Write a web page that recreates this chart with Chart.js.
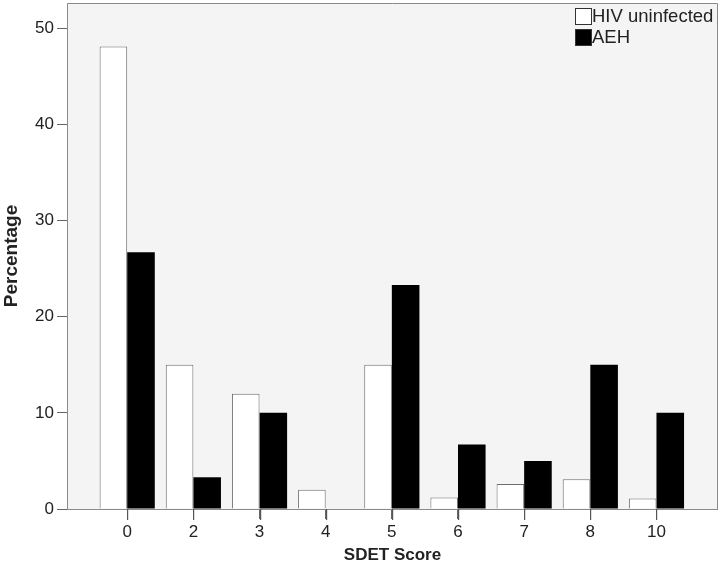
<!DOCTYPE html>
<html>
<head>
<meta charset="utf-8">
<script src="https://cdn.jsdelivr.net/npm/chart.js@4/dist/chart.umd.min.js"></script>
<style>
html,body{margin:0;padding:0;background:#fff;}
#wrap{width:720px;height:568px;}
</style>
</head>
<body>
<div id="wrap"><canvas id="c" width="720" height="568"></canvas></div>
<script>
const categories = ["0", "2", "3", "4", "5", "6", "7", "8", "10"];
const hivUninfected = [48.1, 15.0, 12.0, 2.0, 15.0, 1.2, 2.6, 3.1, 1.1];
const aeh = [26.7, 3.3, 10.0, 0, 23.3, 6.7, 5.0, 15.0, 10.0];
const seriesNames = ["HIV uninfected", "AEH"];
const yTicks = [0, 10, 20, 30, 40, 50];

const FONT = "'Liberation Sans', Arial, sans-serif";

const toPoints = arr => arr.map((v, i) => ({x: i, y: v}));

const frame = {
  id: 'frame',
  beforeDatasetsDraw(chart) {
    const {ctx, chartArea: a} = chart;
    ctx.save();
    ctx.fillStyle = '#f4f4f4';
    ctx.fillRect(a.left, a.top, a.right - a.left, a.bottom - a.top);
    ctx.restore();
  },
  afterDraw(chart) {
    const {ctx, chartArea: a} = chart;
    const xs = chart.scales.x;
    ctx.save();
    ctx.lineWidth = 1;
    ctx.strokeStyle = '#8a8a8a';
    ctx.beginPath();
    ctx.moveTo(a.left + 0.5, a.bottom);
    ctx.lineTo(a.left + 0.5, a.top + 0.5);
    ctx.lineTo(a.right - 0.5, a.top + 0.5);
    ctx.lineTo(a.right - 0.5, a.bottom);
    ctx.stroke();
    ctx.beginPath();
    ctx.moveTo(a.left, a.bottom + 0.5);
    ctx.lineTo(a.right, a.bottom + 0.5);
    ctx.stroke();
    // x tick marks at each category position
    ctx.fillStyle = '#555555';
    for (let i = 0; i < categories.length; i++) {
      const px = xs.getPixelForValue(i);
      ctx.fillRect(Math.round(px), a.bottom, 1.2, 11);
    }
    // legend
    const x0 = a.right - 143, y0 = a.top + 5;
    ctx.font = '18.5px ' + FONT;
    ctx.textBaseline = 'middle';
    chart.data.datasets.forEach((ds, i) => {
      const y = y0 + i * 21;
      ctx.fillStyle = ds.backgroundColor;
      ctx.fillRect(x0, y, 16, 16);
      ctx.strokeStyle = '#333';
      ctx.strokeRect(x0 + 0.5, y + 0.5, 16, 16);
      ctx.fillStyle = '#222';
      ctx.fillText(ds.label, x0 + 17, y + 9);
    });
    ctx.restore();
  }
};

new Chart(document.getElementById('c'), {
  type: 'bar',
  data: {
    datasets: [
      {label: seriesNames[0], data: toPoints(hivUninfected), backgroundColor: '#ffffff', borderColor: '#6e6e6e', borderWidth: 1},
      {label: seriesNames[1], data: toPoints(aeh), backgroundColor: '#000000', borderColor: '#000000', borderWidth: 0}
    ]
  },
  options: {
    responsive: false,
    animation: false,
    devicePixelRatio: 1,
    layout: {padding: {top: 3, right: 2, left: 0, bottom: 0}},
    datasets: {bar: {categoryPercentage: 0.834, barPercentage: 1.0, grouped: true}},
    plugins: {legend: {display: false}, tooltip: {enabled: false}},
    scales: {
      x: {
        type: 'linear',
        offset: false,
        bounds: 'data',
        min: -0.91,
        max: 8.93,
        afterBuildTicks(s) { s.ticks = categories.map((c, i) => ({value: i})); },
        afterFit(s) { s.height = 59; s.paddingLeft = 0; s.paddingRight = 0; },
        ticks: {
          callback: v => categories[v],
          font: {size: 17, family: FONT},
          color: '#222',
          padding: 3,
          maxRotation: 0,
          autoSkip: false
        },
        grid: {display: true, drawOnChartArea: false, drawTicks: true, tickLength: 10, color: '#666', lineWidth: 1, offset: false},
        border: {display: false},
        title: {display: true, text: 'SDET Score', font: {size: 17, weight: 'bold', family: FONT}, color: '#222', padding: {top: 2, bottom: 2}}
      },
      y: {
        min: 0,
        max: 52.63,
        afterBuildTicks(s) { s.ticks = yTicks.map(v => ({value: v})); },
        afterFit(s) { s.width = 67; s.paddingTop = 0; s.paddingBottom = 0; },
        ticks: {
          font: {size: 17, family: FONT},
          color: '#222',
          padding: 3
        },
        grid: {display: true, drawOnChartArea: false, drawTicks: true, tickLength: 10, color: '#666', lineWidth: 1},
        border: {display: false},
        title: {display: true, text: 'Percentage', font: {size: 19, weight: 'bold', family: FONT}, color: '#222', padding: {top: 0, bottom: 0}}
      }
    }
  },
  plugins: [frame]
});
</script>
</body>
</html>
